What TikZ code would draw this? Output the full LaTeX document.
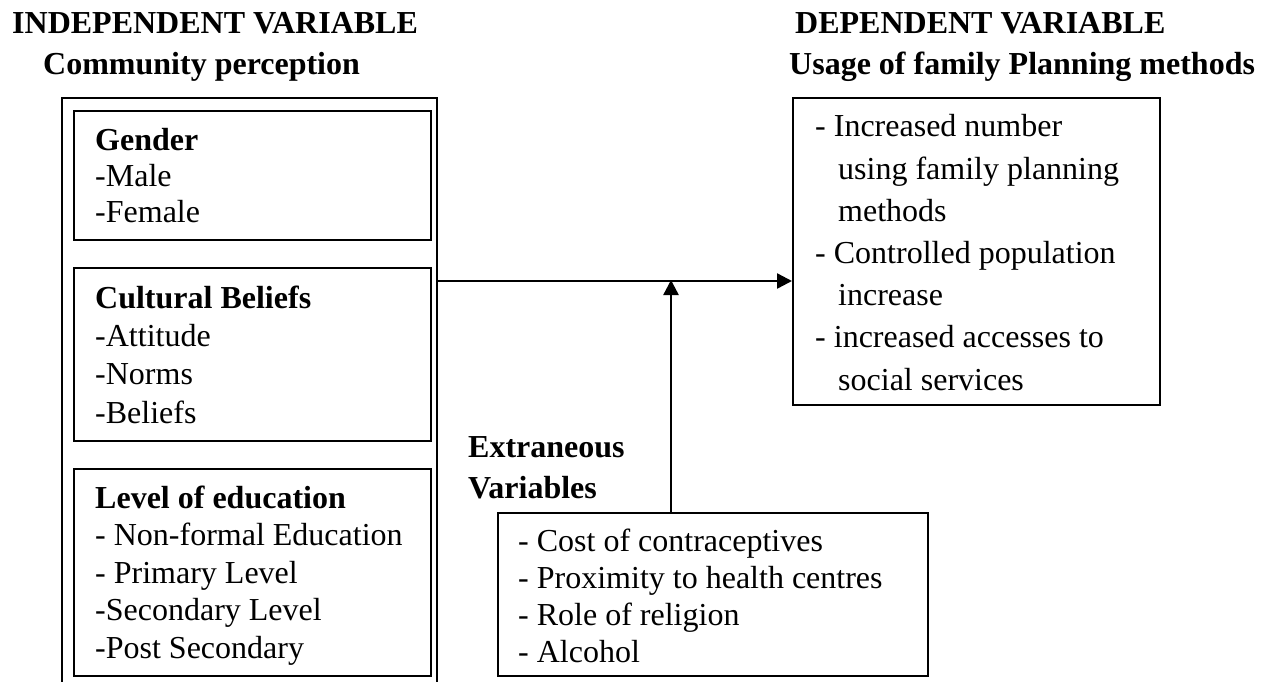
\documentclass[tikz,border=0pt]{standalone}
\usepackage{fontspec}
\setmainfont{Liberation Serif}
\usetikzlibrary{arrows.meta}
\begin{document}
\begin{tikzpicture}[x=1pt,y=-1pt,
  box/.style={draw, line width=2pt, anchor=north west, inner sep=0pt},
  conn/.style={line width=2.4pt, -{Triangle[length=15pt,width=15pt]}},
  txt/.style={anchor=base west, inner sep=0pt, align=left},
  title/.style={anchor=base west, inner sep=0pt, font=\fontsize{32}{38}\selectfont\bfseries}]
\useasboundingbox (0,0) rectangle (1265,681);
% titles
\node[title] (t1) at (12,33) {INDEPENDENT VARIABLE};
\node[title] (t2) at (43,74) {Community perception};
\node[title] (t3) at (795,33) {DEPENDENT VARIABLE};
\node[title] (t4) at (789,74) {Usage of family Planning methods};
% boxes
\node[box, minimum width=375pt, minimum height=610pt] (outer) at (61,97) {};
\node[box, minimum width=357pt, minimum height=129pt] (gender) at (73,110) {};
\node[box, minimum width=357pt, minimum height=173pt] (culture) at (73,267) {};
\node[box, minimum width=357pt, minimum height=207pt] (educ) at (73,468) {};
\node[box, minimum width=367pt, minimum height=307pt] (dep) at (792,97) {};
\node[box, minimum width=430pt, minimum height=163pt] (extr) at (497,512) {};
% texts (anchor = baseline of the last line)
\node[txt, font=\fontsize{32}{36}\selectfont] (gtext) at (95,222) {\textbf{Gender}\\-Male\\-Female};
\node[txt, font=\fontsize{32}{38.3}\selectfont] (ctext) at (95,423) {\textbf{Cultural Beliefs}\\-Attitude\\-Norms\\-Beliefs};
\node[txt, font=\fontsize{32}{37.5}\selectfont] (etext) at (95,658) {\textbf{Level of education}\\- Non-formal Education\\- Primary Level\\-Secondary Level\\-Post Secondary};
\node[txt, font=\fontsize{32}{42.2}\selectfont] (dtext) at (815,390) {- Increased number\\\hspace*{23pt}using family planning\\\hspace*{23pt}methods\\- Controlled population\\\hspace*{23pt}increase\\- increased accesses to\\\hspace*{23pt}social services};
\node[txt, font=\fontsize{32}{41}\selectfont\bfseries] (xlabel) at (468,498) {Extraneous\\Variables};
\node[txt, font=\fontsize{32}{36.7}\selectfont] (xtext) at (518,662) {- Cost of contraceptives\\- Proximity to health centres\\- Role of religion\\- Alcohol};
% connectors
\coordinate (j) at (671,281);
\draw[conn] (outer.east |- j) -- (dep.west |- j);
\draw[conn] (extr.north -| j) -- ([yshift=1pt]j);
\end{tikzpicture}
\end{document}
